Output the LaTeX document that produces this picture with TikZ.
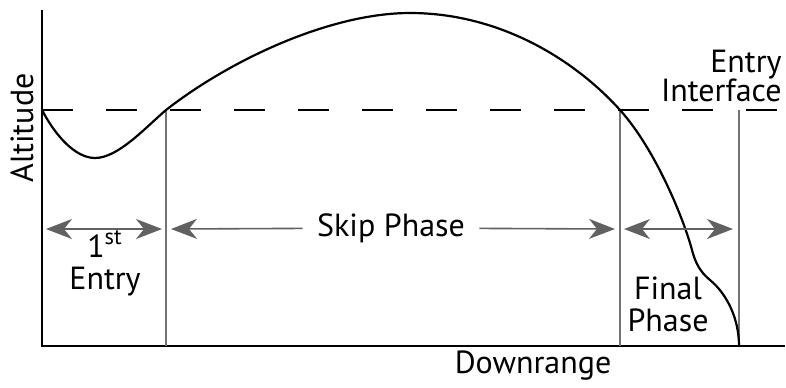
\documentclass[tikz,border=0pt]{standalone}
\usepackage{fontspec}
\setmainfont{PT Sans}
\usetikzlibrary{arrows.meta}
\tikzset{
  lbl/.style={font=\fontsize{16}{13.5}\selectfont, inner sep=0pt, align=center},
  phase/.style={draw=black!62, line width=0.8pt, arrows={Stealth[length=13pt,width=10pt,inset=4pt,fill=black!62]-Stealth[length=13pt,width=10pt,inset=4pt,fill=black!62]}},
  halfphase/.style={draw=black!62, line width=0.8pt, arrows={-Stealth[length=13pt,width=10pt,inset=4pt,fill=black!62]}},
  bound/.style={draw=black!55, line width=0.6pt}
}
\begin{document}
\begin{tikzpicture}[x=0.5pt,y=-0.5pt]
  \useasboundingbox (0,0) rectangle (786,387);
  % axes
  \draw[line width=1.4pt] (42,10) -- (42,346) -- (785,346);
  \node[lbl, rotate=90] (alt) at (22,128) {Altitude};
  \node[lbl] (down) at (533,366) {Downrange};
  % entry interface
  \draw[line width=0.9pt, dash pattern=on 15.5pt off 16.5pt] (42,110) -- (782,110);
  \node[lbl, anchor=base east] (ent) at (782,72) {Entry}; \node[lbl, anchor=base east] (ei) at (782,101) {Interface};
  % phase boundaries
  \draw[bound] (166,110) -- (166,346); \draw[bound] (620,110) -- (620,346); \draw[bound] (739,110) -- (739,346);
  % trajectory
  \draw[line width=1.1pt] (42,110) .. controls (55,135) and (75,158) .. (95,158) .. controls (118,158) and (145,128) .. (166,110)
    .. controls (230,60) and (330,13) .. (410,13) .. controls (500,13) and (575,60) .. (620,110)
    .. controls (656,150) and (684,220) .. (692,250) .. controls (695,262) and (700,272) .. (710,280)
    .. controls (728,295) and (739,320) .. (739,346);
  % phases
  \coordinate (eL) at (46,229); \coordinate (eR) at (162,229);
  \draw[phase] (eL) -- (eR);
  \node[lbl, anchor=base] (first) at (105,257) {1\textsuperscript{st}}; \node[lbl, anchor=base] (entry) at (105,289) {Entry};
  \coordinate (sL) at (171,229); \coordinate (sR) at (615,229);
  \node[lbl, inner sep=7pt] (skip) at (391,228) {Skip Phase};
  \draw[halfphase] (skip) -- (sL); \draw[halfphase] (skip) -- (sR);
  \coordinate (fL) at (624,229); \coordinate (fR) at (733,229);
  \draw[phase] (fL) -- (fR);
  \node[lbl, anchor=base] (final) at (668,299) {Final}; \node[lbl, anchor=base] (fphase) at (668,331) {Phase};
\end{tikzpicture}
\end{document}
